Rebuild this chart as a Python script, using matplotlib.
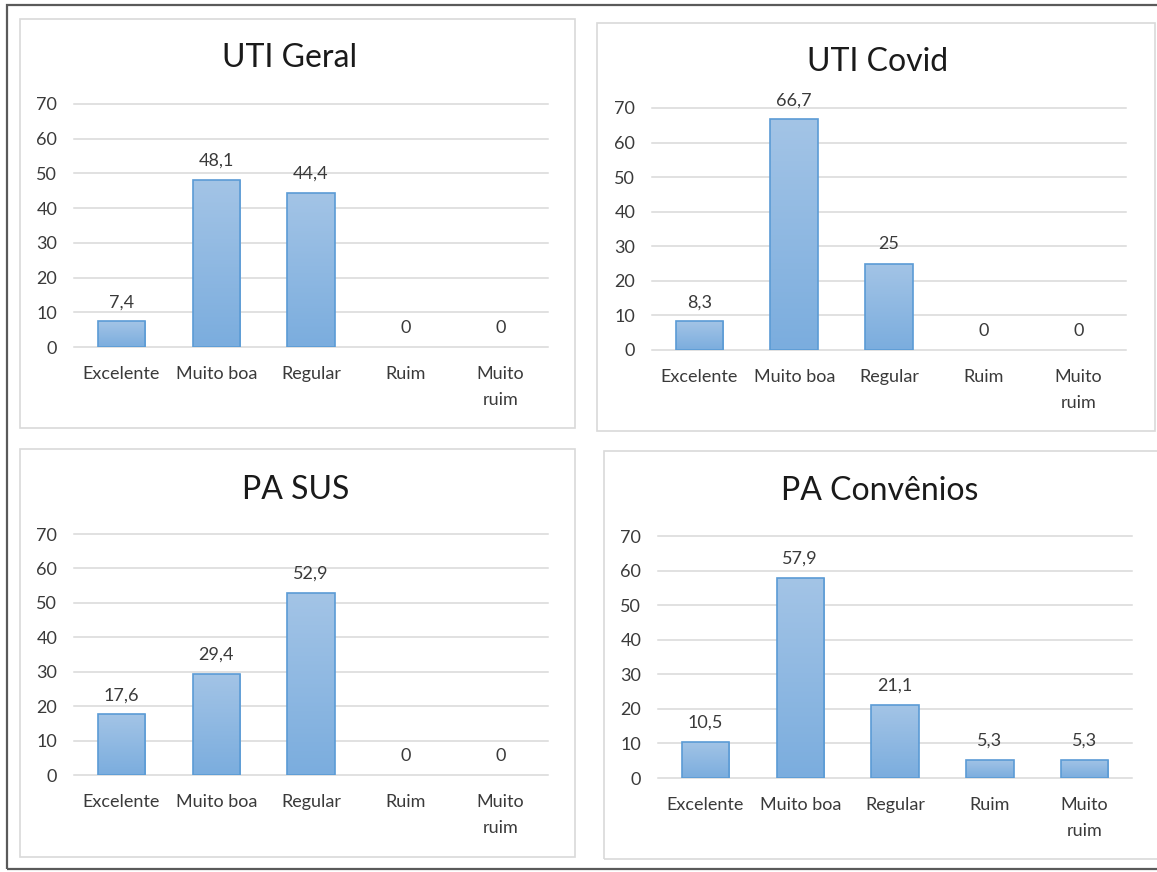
import numpy as np
import matplotlib
matplotlib.use('Agg')
import matplotlib.pyplot as plt
from matplotlib.patches import Rectangle
from matplotlib.colors import LinearSegmentedColormap

plt.rcParams['font.family'] = ['Lato', 'DejaVu Sans']

# Data
categories = ['Excelente', 'Muito boa', 'Regular', 'Ruim', 'Muito\nruim']
titles = ['UTI Geral', 'UTI Covid', 'PA SUS', 'PA Convênios']
uti_geral = [7.4, 48.1, 44.4, 0, 0]
uti_covid = [8.3, 66.7, 25, 0, 0]
pa_sus = [17.6, 29.4, 52.9, 0, 0]
pa_convenios = [10.5, 57.9, 21.1, 5.3, 5.3]
yticks = [0, 10, 20, 30, 40, 50, 60, 70]

W, H = 1157, 872
fig = plt.figure(figsize=(W / 100, H / 100), dpi=100)

def fx(x):
    return x / W

def fy(y):
    return 1 - y / H

# outer frame
fig.patches.append(Rectangle((fx(7), fy(869)), fx(1160 - 7), (869 - 5) / H,
                             transform=fig.transFigure, fill=False,
                             edgecolor='#5a5a5a', linewidth=1.6, zorder=-2))

# panel boxes (left, top, right, bottom) and axes (left, y70, right, y0) in pixels
panels = [(20, 19, 575, 428), (597, 23, 1155, 431),
          (20, 449, 575, 857), (604, 451, 1160, 859)]
axes_px = [(74, 104, 548, 347), (652, 108, 1126, 350),
           (74, 534, 548, 775), (658, 536, 1132, 778)]
title_px = [(290, 58), (878, 62), (296, 490), (880, 491)]
series = [uti_geral, uti_covid, pa_sus, pa_convenios]

grad = LinearSegmentedColormap.from_list('g', ['#7badde', '#a3c4e6'])
txt_color = '#3a3a3a'
fs = 13

for (pl, pt, pr, pb), (al, at, ar, ab), (tx, ty), title, vals in zip(
        panels, axes_px, title_px, titles, series):
    fig.patches.append(Rectangle((fx(pl), fy(pb)), (pr - pl) / W, (pb - pt) / H,
                                 transform=fig.transFigure, fill=False,
                                 edgecolor='#d9d9d9', linewidth=1.2, zorder=-1))
    ax = fig.add_axes([fx(al), fy(ab), (ar - al) / W, (ab - at) / H])
    ax.set_facecolor('none')
    x = np.arange(len(categories))
    bars = ax.bar(x, vals, width=0.5, color='none', edgecolor='#5b9bd5',
                  linewidth=1.2, zorder=3)
    for b in bars:
        if b.get_height() > 0:
            im = ax.imshow(np.linspace(0, 1, 100).reshape(-1, 1), cmap=grad,
                           aspect='auto', origin='lower',
                           extent=[b.get_x(), b.get_x() + b.get_width(), 0, b.get_height()],
                           zorder=2)
            im.set_clip_path(b)
        else:
            b.set_linewidth(0)
    for b, v in zip(bars, vals):
        lab = f'{v:g}'.replace('.', ',')
        ax.annotate(lab, (b.get_x() + b.get_width() / 2, v), xytext=(0, 8),
                    textcoords='offset points', ha='center', va='bottom',
                    fontsize=fs, color=txt_color)
    ax.set_xlim(-0.5, len(categories) - 0.5)
    ax.set_ylim(0, 70)
    ax.set_yticks(yticks)
    ax.set_xticks(x)
    ax.set_xticklabels(categories, linespacing=1.75)
    ax.tick_params(axis='both', length=0, labelsize=fs, labelcolor=txt_color)
    ax.tick_params(axis='y', pad=12)
    ax.tick_params(axis='x', pad=14)
    for s in ax.spines.values():
        s.set_visible(False)
    ax.grid(axis='y', color='#d9d9d9', linewidth=1.1, zorder=0)
    ax.set_axisbelow(True)
    for gl in ax.get_ygridlines():
        gl.set_clip_on(False)
    fig.text(fx(tx), fy(ty), title, fontsize=23, color='#1a1a1a',
             ha='center', va='center')

fig.savefig('out.png', dpi=100)
